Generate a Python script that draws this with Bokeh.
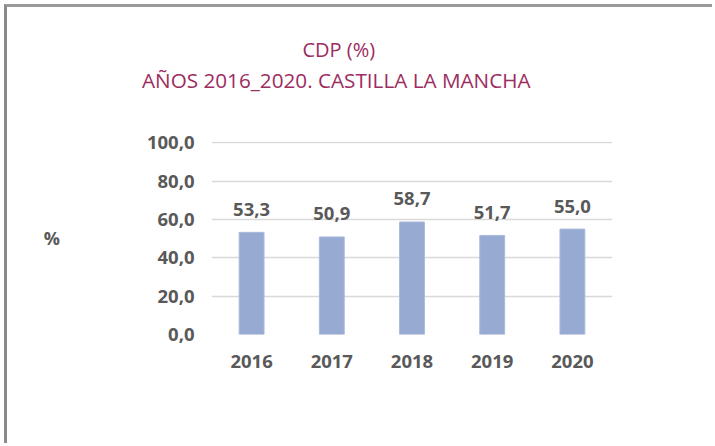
from bokeh.plotting import figure
from bokeh.models import (ColumnDataSource, FactorRange, Range1d, FixedTicker,
                          CustomJSTickFormatter, LabelSet, Title)
from bokeh.core.properties import value
from bokeh.embed import file_html
from bokeh.resources import INLINE

# ---- data ----
years = ["2016", "2017", "2018", "2019", "2020"]
values = [53.3, 50.9, 58.7, 51.7, 55.0]
y_ticks = [0, 20, 40, 60, 80, 100]
title_line1 = "CDP (%)"
title_line2 = "AÑOS 2016_2020. CASTILLA LA MANCHA"
y_label = "%"

labels = [f"{v:.1f}".replace(".", ",") for v in values]
source = ColumnDataSource(dict(year=years, value=values, label=labels))

TXT = "#595959"
FONT = "Open Sans"
TITLE_C = "#9B2D60"

p = figure(width=708, height=439, output_backend="svg", toolbar_location=None,
           x_range=FactorRange(factors=years, range_padding=0),
           y_range=Range1d(0, 100.7),
           min_border_left=204, min_border_right=103,
           min_border_top=134, min_border_bottom=112)
p.outline_line_color = None
p.background_fill_color = "white"
p.border_fill_color = "white"
p.styles = {"margin-left": "4px", "margin-top": "4px",
            "border-left": "3px solid #8a8a8a", "border-top": "3px solid #9a9a9a"}

p.vbar(x="year", top="value", width=0.31, source=source,
       fill_color="#97AAD2", line_color="#A9BADB", line_width=1)

# axes
p.yaxis.ticker = FixedTicker(ticks=y_ticks)
p.yaxis.formatter = CustomJSTickFormatter(code="return tick.toFixed(1).replace('.', ',');")
for ax in (p.xaxis, p.yaxis):
    ax.axis_line_color = None
    ax.major_tick_line_color = None
    ax.minor_tick_line_color = None
    ax.major_tick_out = 0
    ax.major_tick_in = 0
    ax.major_label_text_font = FONT
    ax.major_label_text_font_style = "bold"
    ax.major_label_text_font_size = "18.5px"
    ax.major_label_text_color = TXT
p.yaxis.major_label_standoff = 17
p.xaxis.major_label_standoff = 20

yax = p.yaxis[0]
yax.axis_label = y_label
yax.axis_label_text_font = FONT
yax.axis_label_text_font_style = "bold"
yax.axis_label_text_font_size = "18px"
yax.axis_label_text_color = TXT
yax.axis_label_standoff = 84
if hasattr(yax, "axis_label_orientation"):
    yax.axis_label_orientation = "horizontal"

p.xgrid.grid_line_color = None
p.ygrid.ticker = FixedTicker(ticks=y_ticks)
p.ygrid.grid_line_color = "#D9D9D9"
p.ygrid.grid_line_width = 1.4

# data labels
p.add_layout(LabelSet(x="year", y="value", text="label", source=source,
                      y_offset=23, text_align="center", text_baseline="middle",
                      text_font=value(FONT), text_font_style="bold",
                      text_font_size="18.5px", text_color=TXT))

# titles (first added sits closest to the plot)
p.add_layout(Title(text=" ", text_font_size="1px", standoff=44), "above")
p.add_layout(Title(text=title_line2, align="left", offset=-69.5, standoff=1,
                   text_font=FONT, text_font_style="normal", text_font_size="20.7px",
                   text_color=TITLE_C), "above")
p.add_layout(Title(text=title_line1, align="left", offset=91, standoff=1,
                   text_font=FONT, text_font_style="normal", text_font_size="20px",
                   text_color=TITLE_C), "above")

open("out.html", "w").write(file_html(p, INLINE))
